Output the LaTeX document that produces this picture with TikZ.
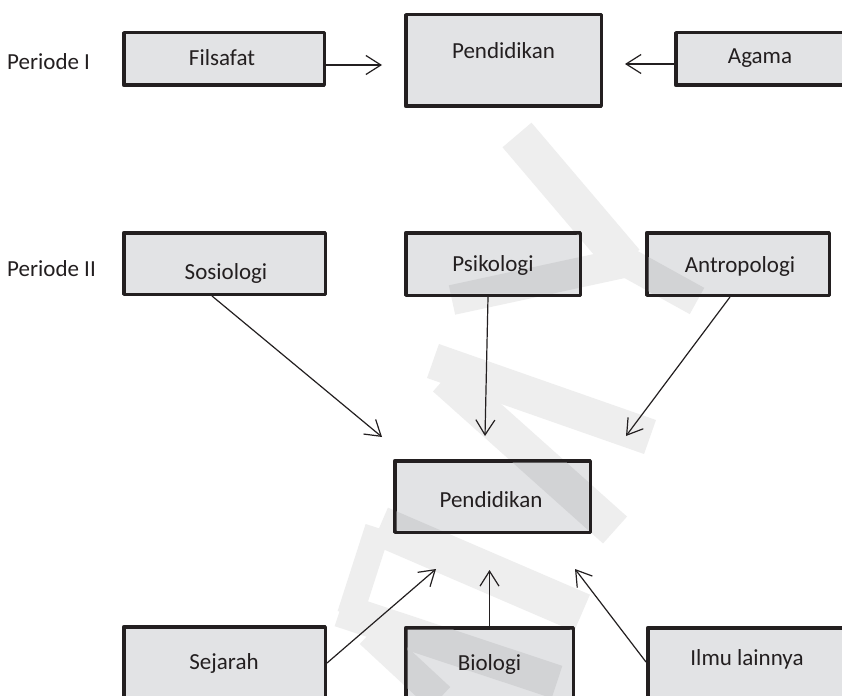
\documentclass[tikz,border=0pt]{standalone}
\usepackage{fontspec}
\setmainfont{Carlito}
\usetikzlibrary{arrows.meta}
\definecolor{ink}{HTML}{231F20}
\definecolor{boxfill}{HTML}{E2E3E5}
\definecolor{wmlight}{HTML}{EEEEEE}
\definecolor{wmdark}{HTML}{D2D3D5}
\tikzset{
  box/.style={draw=ink, line width=3.5pt, fill=boxfill, inner sep=0pt, line join=round},
  lbl/.style={font=\fontsize{23}{27}\selectfont, text=ink, inner sep=0pt, anchor=base},
  arr/.style={draw=ink, line width=1.2pt, -{Straight Barb[length=15pt,width=19pt]}},
  wm/.style={line width=#1, line cap=butt},
  wm/.default=36pt
}
\newcommand{\wmbands}[1]{%
  \draw[wm=38pt,#1] (517,135) -- (625,262);
  \draw[wm=30pt,#1] (612,254) -- (697,301);
  \draw[wm=30pt,#1] (628,262) -- (452,300);
  \draw[wm=36pt,#1] (433,361) -- (650,437);
  \draw[wm=36pt,#1] (445,378) -- (615,530);
  \draw[wm=40pt,#1] (380,526) -- (582,613);
  \draw[wm=26pt,#1] (378,528) -- (350,615);
  \draw[wm=34pt,#1] (340,610) -- (557,682);
  \draw[wm=30pt,#1] (370,633) -- (440,698);
}
\newcommand{\inrect}[1]{([shift={(3.5pt,3.5pt)}]#1.south west) rectangle ([shift={(-3.5pt,-3.5pt)}]#1.north east)}
\begin{document}
\begin{tikzpicture}[x=1pt,y=-1pt]
\useasboundingbox (0,0) rectangle (842,695);
\clip (0,0) rectangle (842,695);
\fill[white] (0,0) rectangle (842,695);

% watermark on the page
\wmbands{draw=wmlight}

% boxes
\node[box, minimum width=200.5pt, minimum height=52.5pt] (fil)  at (224,59) {};
\node[box, minimum width=195.5pt, minimum height=91.5pt] (pen1) at (503.5,60.5) {};
\node[box, minimum width=168.5pt, minimum height=52.5pt] (aga)  at (760,59) {};
\node[box, minimum width=201.5pt, minimum height=61.5pt] (sos)  at (224.5,263.5) {};
\node[box, minimum width=174.5pt, minimum height=62.5pt] (psi)  at (493,264) {};
\node[box, minimum width=182.5pt, minimum height=62.5pt] (ant)  at (738,264) {};
\node[box, minimum width=195.5pt, minimum height=71.5pt] (pen2) at (492.5,496.5) {};
\node[box, minimum width=201.5pt, minimum height=86.5pt] (sej)  at (224.5,670) {};
\node[box, minimum width=167.5pt, minimum height=85.5pt] (bio)  at (489.5,670.5) {};
\node[box, minimum width=199.5pt, minimum height=85.5pt] (ilm)  at (747.5,670.5) {};

% watermark seen through the box fills
\begin{scope}
  \clip \inrect{pen1} \inrect{psi} \inrect{ant} \inrect{pen2} \inrect{bio};
  \wmbands{draw=wmdark}
\end{scope}

% arrow tips
\coordinate (t1) at (382,65);
\coordinate (t2) at (625,64);
\coordinate (t3) at (382,437);
\coordinate (t4) at (485,436);
\coordinate (t5) at (626,436);
\coordinate (t6) at (436,569);
\coordinate (t7) at (489.5,570);
\coordinate (t8) at (575,569);

\draw[arr] (fil.east |- t1) -- (t1);
\draw[arr] (aga.west |- t2) -- (t2);
\draw[arr] ([xshift=-12.5pt]sos.south) -- (t3);
\draw[arr] ([xshift=-5pt]psi.south) -- (t4);
\draw[arr] ([xshift=-8pt]ant.south) -- (t5);
\draw[arr] ([yshift=-38pt]sej.north east) -- (t6);
\draw[arr] (bio.north) -- (t7);
\draw[arr] ([yshift=-36pt]ilm.north west) -- (t8);

% labels
\node[lbl, anchor=base west] (per1) at (7,70) {Periode I};
\node[lbl] (filT)  at (222,66) {Filsafat};
\node[lbl] (pen1T) at (503.5,59) {Pendidikan};
\node[lbl] (agaT)  at (760,64) {Agama};
\node[lbl, anchor=base west] (per2) at (7,276) {Periode II};
\node[lbl] (sosT)  at (226,279) {Sosiologi};
\node[lbl] (psiT)  at (493,271) {Psikologi};
\node[lbl] (antT)  at (740,272) {Antropologi};
\node[lbl] (pen2T) at (491,507) {Pendidikan};
\node[lbl] (sejT)  at (224,669) {Sejarah};
\node[lbl] (bioT)  at (489.5,670) {Biologi};
\node[lbl] (ilmT)  at (747,665) {Ilmu lainnya};
\end{tikzpicture}
\end{document}
